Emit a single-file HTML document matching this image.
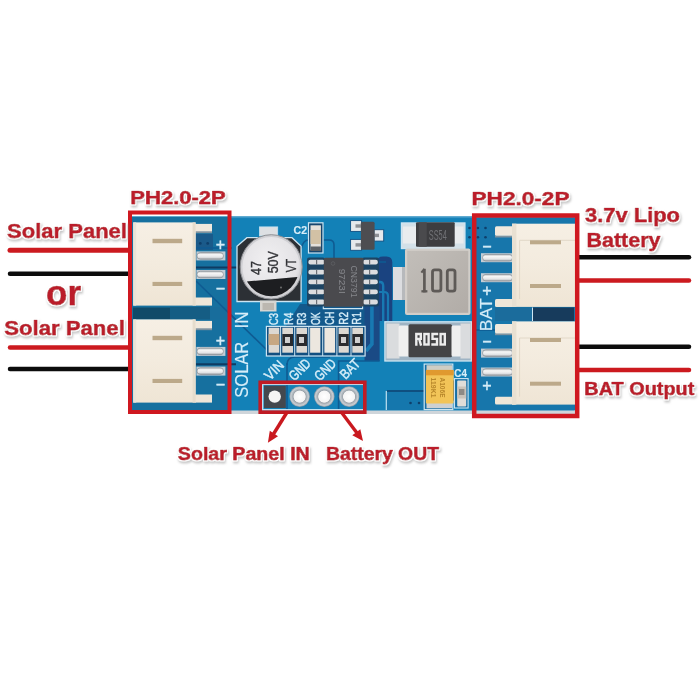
<!DOCTYPE html>
<html><head><meta charset="utf-8">
<style>
html,body{margin:0;padding:0;background:#fff;width:700px;height:700px;overflow:hidden}
svg{display:block;filter:blur(0.3px)}
.lbl{font-family:"Liberation Sans",sans-serif;font-weight:bold;fill:#bb1f2a;stroke:#bb1f2a;stroke-width:0.75px;stroke-linejoin:round}
.silk{font-family:"Liberation Sans",sans-serif;fill:#d6edf8;stroke:#d6edf8;stroke-width:0.15px}
</style></head>
<body>
<svg width="700" height="700" viewBox="0 0 700 700">
<defs>
<filter id="sh" x="-10%" y="-30%" width="120%" height="160%">
<feMorphology in="SourceAlpha" operator="dilate" radius="1.2" result="d"/>
<feGaussianBlur in="d" stdDeviation="0.9" result="db"/>
<feOffset in="db" dx="1" dy="1.6" result="o"/>
<feFlood flood-color="#9a9a9a" flood-opacity="0.55"/>
<feComposite in2="o" operator="in" result="s"/>
<feMorphology in="SourceAlpha" operator="dilate" radius="0.9" result="h"/>
<feFlood flood-color="#ffffff"/>
<feComposite in2="h" operator="in" result="hw"/>
<feMerge><feMergeNode in="s"/><feMergeNode in="hw"/><feMergeNode in="SourceGraphic"/></feMerge>
</filter>
<linearGradient id="cream" x1="0" y1="0" x2="0" y2="1">
<stop offset="0" stop-color="#f6efe4"/><stop offset="0.5" stop-color="#f3ebde"/><stop offset="1" stop-color="#efe5d5"/>
</linearGradient>
<linearGradient id="pin" x1="0" y1="0" x2="0" y2="1">
<stop offset="0" stop-color="#b5b9bd"/><stop offset="0.3" stop-color="#f6f6f6"/><stop offset="0.7" stop-color="#e4e5e7"/><stop offset="1" stop-color="#a2a6ab"/>
</linearGradient>
<radialGradient id="can" cx="0.45" cy="0.4" r="0.65">
<stop offset="0" stop-color="#f1f0f2"/><stop offset="0.8" stop-color="#e3e2e5"/><stop offset="1" stop-color="#c9c8cc"/>
</radialGradient>
<linearGradient id="ind" x1="0" y1="0" x2="1" y2="1">
<stop offset="0" stop-color="#c2beb9"/><stop offset="1" stop-color="#b1aca7"/>
</linearGradient>
<radialGradient id="ring">
<stop offset="0" stop-color="#ffffff"/><stop offset="0.55" stop-color="#f4f4f4"/><stop offset="0.62" stop-color="#9ea6ad"/><stop offset="0.85" stop-color="#c9cfd4"/><stop offset="1" stop-color="#8a96a0"/>
</radialGradient>
</defs>
<rect width="700" height="700" fill="#fff"/>

<!-- wires -->
<g stroke-linecap="round">
<line x1="10" y1="250.2" x2="130" y2="250.2" stroke="#cc1a1f" stroke-width="5"/>
<line x1="10" y1="273.8" x2="130" y2="273.8" stroke="#0c0c0c" stroke-width="4.5"/>
<line x1="10" y1="347.5" x2="130" y2="347.5" stroke="#cc1a1f" stroke-width="4.5"/>
<line x1="10" y1="369" x2="130" y2="369" stroke="#0c0c0c" stroke-width="4.5"/>
<line x1="578" y1="257.2" x2="689" y2="257.2" stroke="#0c0c0c" stroke-width="4.5"/>
<line x1="578" y1="280.4" x2="689" y2="280.4" stroke="#cc1a1f" stroke-width="4.5"/>
<line x1="578" y1="346.7" x2="689" y2="346.7" stroke="#0c0c0c" stroke-width="4.5"/>
<line x1="578" y1="369.9" x2="689" y2="369.9" stroke="#cc1a1f" stroke-width="4.5"/>
</g>

<!-- board -->
<rect x="130" y="409" width="446" height="5" fill="#cfd5da"/>
<rect x="130" y="216.5" width="446" height="194" rx="2" fill="#1381b7"/>
<rect x="130" y="216.5" width="446" height="1.6" fill="#3a96c6"/>
<!-- dark pours -->
<rect x="132" y="217" width="96" height="193" fill="#16709f"/>
<rect x="133" y="307.5" width="37" height="11.8" fill="#104a68"/>
<rect x="196" y="234" width="17" height="16" fill="#1a5a8a"/>
<rect x="170" y="307" width="40" height="12.5" fill="#155d84"/><rect x="210" y="307" width="20" height="12.5" fill="#186d9c"/>
<rect x="476" y="218" width="99" height="192" fill="#1776ab"/>
<rect x="495" y="307.5" width="38" height="13.5" fill="#1b6c9c"/>
<rect x="533" y="307.5" width="41" height="13.5" fill="#173b5c"/>
<rect x="532" y="307.5" width="1" height="13.5" fill="#cfe6f3"/>
<path d="M286 326 L300 304 H366 V326 Z" fill="#13598c"/>
<path d="M377 262 Q377 256.5 383 256.5 H386.5 Q392.3 256.5 392.3 262.5 V321 H377 Z" fill="#1a4380"/>
<path d="M377.5 282 H380 Q383.2 282 383.2 286 V321" stroke="#1879b2" stroke-width="2.4" fill="none"/>
<path d="M377.5 292 H384 Q388 292 388 296 V321" stroke="#1879b2" stroke-width="2.2" fill="none"/>
<path d="M364.5 306 H379.6 V361 H364.5 Z" fill="#1a4a85"/>
<path d="M371.9 306 V344 L366 351" stroke="#1879b2" stroke-width="3.6" fill="none"/>
<!-- traces -->
<g fill="none" stroke="#0f5b92" stroke-width="1.6">
<path d="M196 281 L270 353"/>
<path d="M228 312 L240 324"/>
<path d="M323.5 240 H329 Q334 240 334 245 V258"/>
<path d="M301 249 Q303 240 308.5 240"/>
<path d="M378 262 H386"/>
<path d="M287 363 V410"/>
<path d="M338.6 410 V361 H379.6"/>
<path d="M287 365 Q287 357 295 357 H330"/>

<path d="M196 248 H232"/>
<path d="M196 267.4 H238" stroke="#0e3b62" stroke-width="2"/>
<path d="M196 364.3 H236" stroke="#0e3b62" stroke-width="2"/>
<path d="M476 330 H495"/>
</g>
<!-- vias -->
<g fill="#0e3f6b">
<circle cx="469.5" cy="228" r="1.3"/><circle cx="477.9" cy="228" r="1.3"/><circle cx="485.5" cy="228" r="1.3"/>
<circle cx="469.5" cy="237.3" r="1.3"/><circle cx="477.9" cy="237.3" r="1.3"/><circle cx="485.5" cy="237.3" r="1.3"/>
<circle cx="200.3" cy="243.4" r="1.4"/><circle cx="207.7" cy="243.4" r="1.4"/>

</g>

<!-- pins -->
<rect x="196.4" y="251.4" width="29" height="9" fill="#c3ced6"/>
<rect x="197" y="252.6" width="26.5" height="6.6" rx="3.3" fill="url(#pin)" stroke="#878c92" stroke-width="0.7"/>
<rect x="196.4" y="270.0" width="29" height="9" fill="#c3ced6"/>
<rect x="197" y="271.2" width="26.5" height="6.6" rx="3.3" fill="url(#pin)" stroke="#878c92" stroke-width="0.7"/>
<rect x="196.4" y="346.9" width="29" height="9" fill="#c3ced6"/>
<rect x="197" y="348.1" width="26.5" height="6.6" rx="3.3" fill="url(#pin)" stroke="#878c92" stroke-width="0.7"/>
<rect x="196.4" y="366.6" width="29" height="9" fill="#c3ced6"/>
<rect x="197" y="367.8" width="26.5" height="6.6" rx="3.3" fill="url(#pin)" stroke="#878c92" stroke-width="0.7"/>
<rect x="481" y="253.2" width="32" height="9" fill="#c3ced6"/>
<rect x="482.5" y="254.4" width="30" height="6.6" rx="3.3" fill="url(#pin)" stroke="#878c92" stroke-width="0.7"/>
<rect x="481" y="273.2" width="32" height="9" fill="#c3ced6"/>
<rect x="482.5" y="274.4" width="30" height="6.6" rx="3.3" fill="url(#pin)" stroke="#878c92" stroke-width="0.7"/>
<rect x="481" y="348.6" width="32" height="9" fill="#c3ced6"/>
<rect x="482.5" y="349.8" width="30" height="6.6" rx="3.3" fill="url(#pin)" stroke="#878c92" stroke-width="0.7"/>
<rect x="481" y="367.5" width="32" height="9" fill="#c3ced6"/>
<rect x="482.5" y="368.7" width="30" height="6.6" rx="3.3" fill="url(#pin)" stroke="#878c92" stroke-width="0.7"/>
<!-- ===== left connectors ===== -->
<g id="lc">
<rect x="195" y="231" width="17" height="2.2" fill="#7f929f"/>
<rect x="195" y="223.9" width="17" height="7.4" fill="#f1e9dd"/>
<rect x="195" y="297.5" width="17" height="8.1" fill="#efe6d8"/>
<rect x="133.2" y="222.4" width="62.4" height="83.2" fill="url(#cream)"/>
<rect x="192.6" y="222.4" width="3" height="83.2" fill="#e6ddcd"/>
<rect x="133.2" y="222.4" width="3" height="83.2" fill="#e9e3d8"/>
<rect x="152.5" y="238.8" width="29.7" height="4.4" fill="#bca98a"/>
<rect x="152.5" y="281.9" width="29.7" height="4.1" fill="#bca98a"/>
</g>
<use href="#lc" y="97"/>

<!-- ===== right connectors ===== -->
<g id="rc">
<rect x="495" y="235.5" width="21" height="2" fill="#7f929f"/>
<rect x="495" y="226.3" width="21" height="9.4" rx="1.5" fill="#f1e9dd"/>
<rect x="495" y="299.1" width="21" height="7.8" rx="1.5" fill="#efe6d8"/>
<rect x="512" y="223.7" width="63" height="83.2" fill="url(#cream)"/>
<rect x="512" y="223.7" width="4.4" height="83.2" fill="#e8e0d2"/>
<path d="M575 240.3 H519.6 V299" fill="none" stroke="#e2d8c8" stroke-width="1"/>
<rect x="530" y="240.3" width="31" height="4" fill="#bca98a"/>
<rect x="530" y="284" width="31" height="4" fill="#bca98a"/>
</g>
<use href="#rc" y="97.7"/>

<!-- +/- and BAT -->
<g font-family="Liberation Sans, sans-serif" font-size="16" fill="#d6edf8" stroke="#d6edf8" stroke-width="0.4" text-anchor="middle">
<text x="220.5" y="250">+</text><text x="220.5" y="293.5">−</text>
<text x="220.5" y="345.5">+</text><text x="220.5" y="390">−</text>
<text x="486.8" y="251.5">−</text><text x="486.8" y="296.3">+</text>
<text x="486.8" y="346.5">−</text><text x="486.8" y="391.4">+</text>
</g>
<text transform="translate(492.3 331.3) rotate(-90)" class="silk" font-size="16.5" textLength="33" lengthAdjust="spacingAndGlyphs">BAT</text>
<text transform="translate(248.1 397.7) rotate(-90)" class="silk" font-size="18.5" textLength="56" lengthAdjust="spacingAndGlyphs">SOLAR</text>
<text transform="translate(248.1 328.6) rotate(-90)" class="silk" font-size="18.5" textLength="17.2" lengthAdjust="spacingAndGlyphs">IN</text>

<!-- ===== electrolytic cap ===== -->
<path d="M237 246.3 L246.9 237.7 H292 L301.1 246.3 V301.5 H237 Z" fill="#2c3035" stroke="#cde5f2" stroke-width="1.3"/>
<rect x="259.4" y="226.9" width="18.3" height="9" fill="#dde0e3" stroke="#c4e2f1" stroke-width="0.8"/>
<rect x="260" y="300.5" width="16.5" height="11" fill="#d6d5d1"/>
<rect x="262.5" y="303" width="11.5" height="7" fill="#bbb7b0"/>
<clipPath id="capc"><ellipse cx="271.2" cy="266.9" rx="28" ry="29.3"/></clipPath>
<ellipse cx="271.2" cy="266.9" rx="31" ry="32.2" fill="#cfcfd3" stroke="#8f9094" stroke-width="1"/>
<ellipse cx="271.2" cy="266.9" rx="28.8" ry="30" fill="url(#can)"/>
<path d="M230 283.5 L246 281.5 L299.8 276.8 L312 275.5 V310 H230 Z" fill="#1d1e21" clip-path="url(#capc)"/>
<circle cx="281" cy="287.5" r="0.9" fill="#777"/>
<g font-family="Liberation Sans, sans-serif" font-size="14.5" fill="#323337" stroke="#323337" stroke-width="0.35" text-anchor="middle">
<text transform="translate(261.2 268) rotate(-90)" textLength="14" lengthAdjust="spacingAndGlyphs">47</text>
<text transform="translate(277.6 262.2) rotate(-90)" textLength="22.3" lengthAdjust="spacingAndGlyphs">50V</text>
<text transform="translate(295.7 265.5) rotate(-90)" textLength="13.5" lengthAdjust="spacingAndGlyphs">VT</text>
</g>

<!-- ===== C2 ===== -->
<rect x="308.5" y="222.8" width="14.5" height="30.2" fill="#16466f" stroke="#cde5f2" stroke-width="1.2"/>
<rect x="310.5" y="225.3" width="10.4" height="25" fill="#e4e0da"/>
<rect x="310.5" y="230" width="10.4" height="14" fill="#d2c1a5"/>
<rect x="310.5" y="246.5" width="10.4" height="4.5" fill="#5d6166"/>
<text x="293.5" y="233.6" class="silk" font-size="10" font-weight="bold" textLength="13.6" lengthAdjust="spacingAndGlyphs">C2</text>

<!-- ===== SOT23 ===== -->
<g fill="#e6e9ec" stroke="#0f4f82" stroke-width="0.9">
<rect x="350.6" y="220.6" width="11" height="10.8"/>
<rect x="350.6" y="239.4" width="11" height="10.9"/>
<rect x="374" y="229.7" width="9.7" height="11.4"/>
</g>
<g fill="#8d9095">
<rect x="355.5" y="224.3" width="6" height="3.4"/><rect x="355.5" y="243.2" width="6" height="3.4"/><rect x="374" y="233.7" width="5" height="3.4"/>
</g>
<rect x="360.9" y="221.7" width="13.7" height="28" rx="1.5" fill="#4d4d51"/>

<!-- ===== IC ===== -->
<rect x="307" y="257.5" width="18" height="49" rx="2" fill="#1d4463"/>
<rect x="362" y="257.5" width="17" height="49" rx="2" fill="#1d4463"/>
<g fill="#dcdddf">
<rect x="308.4" y="259.8" width="16.5" height="4.8" rx="2"/><rect x="308.4" y="269.7" width="16.5" height="4.8" rx="2"/><rect x="308.4" y="279.5" width="16.5" height="4.8" rx="2"/><rect x="308.4" y="289.4" width="16.5" height="4.8" rx="2"/><rect x="308.4" y="299.6" width="16.5" height="4.8" rx="2"/>
<rect x="363" y="259.8" width="14.8" height="4.8" rx="2"/><rect x="363" y="269.7" width="14.8" height="4.8" rx="2"/><rect x="363" y="279.5" width="14.8" height="4.8" rx="2"/><rect x="363" y="289.4" width="14.8" height="4.8" rx="2"/><rect x="363" y="299.6" width="14.8" height="4.8" rx="2"/>
</g>
<g fill="#6d7076">
<rect x="316" y="259.8" width="1.2" height="4.8"/><rect x="316" y="269.7" width="1.2" height="4.8"/><rect x="316" y="279.5" width="1.2" height="4.8"/><rect x="316" y="289.4" width="1.2" height="4.8"/><rect x="316" y="299.6" width="1.2" height="4.8"/>
<rect x="369" y="259.8" width="1.2" height="4.8"/><rect x="369" y="269.7" width="1.2" height="4.8"/><rect x="369" y="279.5" width="1.2" height="4.8"/><rect x="369" y="289.4" width="1.2" height="4.8"/><rect x="369" y="299.6" width="1.2" height="4.8"/>
</g>
<rect x="323.8" y="257.7" width="39.8" height="49" rx="1.5" fill="#4a4a4e"/>
<circle cx="333" cy="263.5" r="1.8" fill="none" stroke="#5e5f63" stroke-width="0.8"/>
<g font-family="Liberation Sans, sans-serif" font-size="9.6" fill="#86878c" text-anchor="middle">
<text transform="translate(350.8 281.5) rotate(90)" textLength="32" lengthAdjust="spacingAndGlyphs">CN3791</text>
<text transform="translate(338.6 281.2) rotate(90)" textLength="25" lengthAdjust="spacingAndGlyphs">9723I</text>
</g>

<path d="M323.3 306.5 V308.6 H362.6 V306.5" fill="none" stroke="#cde5f2" stroke-width="1.1"/>
<!-- ===== diode SS54 ===== -->
<rect x="401.4" y="222.9" width="63.6" height="25.7" fill="#d3e0e8" stroke="#cde5f2" stroke-width="1.2"/>
<rect x="403" y="226.5" width="13" height="17" fill="#e9ecee"/>
<rect x="454" y="226.5" width="9.5" height="17" fill="#e9ecee"/>
<rect x="416" y="222.3" width="38.7" height="24.4" rx="1" fill="#3d3d40"/>
<rect x="418.7" y="222.3" width="8" height="24.4" fill="#4a4a4d"/>
<text x="437.8" y="239.8" font-family="Liberation Sans, sans-serif" font-size="15.5" fill="#707175" text-anchor="middle" textLength="18" lengthAdjust="spacingAndGlyphs">SS54</text>

<!-- ===== inductor ===== -->
<rect x="393" y="267" width="13" height="33" fill="#dcdde0"/>
<rect x="402" y="267" width="4" height="33" fill="#b7b9bc"/>
<rect x="405" y="248.6" width="65.5" height="66.4" rx="2" fill="#d2cec9"/>
<rect x="407.2" y="250.8" width="61.1" height="62" fill="url(#ind)"/>
<g stroke="#5e5a57" fill="none">
<path d="M424.4 268.8 V292.4" stroke-width="2.7"/>
<path d="M421.4 272.6 L424.4 268.9" stroke-width="2.2"/>
<path d="M421.4 291.3 H427.4" stroke-width="2.3"/>
<rect x="432.5" y="269.8" width="8.4" height="21.3" rx="2.2" stroke-width="2.8"/>
<rect x="447.3" y="269.8" width="7.7" height="21.3" rx="2.2" stroke-width="2.8"/>
</g>

<!-- ===== R050 ===== -->
<rect x="384.9" y="321.8" width="86.5" height="39.2" fill="#9fb4c4" stroke="#cde5f2" stroke-width="1.3"/>
<rect x="386.5" y="323.5" width="13" height="35" fill="#dadcde"/>
<rect x="398.6" y="325.6" width="10.5" height="31" rx="1.5" fill="#efefef"/>
<rect x="408.5" y="324.2" width="43.5" height="33" rx="1.5" fill="#434345"/>
<rect x="451.5" y="325.6" width="10" height="31" rx="1.5" fill="#efefef"/>
<rect x="460.5" y="323.5" width="10" height="35" fill="#dadcde"/>
<g stroke="#ececec" stroke-width="2.4" fill="none">
<path d="M416.3 345.7 V334 H420.8 V338.9 H416.3 M419.2 339 L421.1 345.7"/>
<rect x="424.4" y="334" width="4.2" height="10.5"/>
<path d="M438.2 334 H432.5 V338.9 H437 V344.5 H431.3"/>
<rect x="440.6" y="334" width="4.2" height="10.5"/>
</g>

<rect x="387" y="392" width="37" height="18" fill="#1577ad"/>
<circle cx="410.5" cy="403" r="1.3" fill="#0e3f6b"/><circle cx="419" cy="403" r="1.3" fill="#0e3f6b"/>
<path d="M424 391 H387" fill="none" stroke="#0f4f80" stroke-width="1.8"/>
<path d="M386.3 391 V410" fill="none" stroke="#bfe0f0" stroke-width="1.2"/>
<!-- ===== tantalum + C4 ===== -->
<rect x="424.2" y="364.1" width="28.6" height="45.5" fill="#176fa5" stroke="#cde5f2" stroke-width="1.2"/>
<rect x="426.5" y="365.2" width="25.5" height="5" fill="#cfcdc4"/>
<rect x="426.5" y="402.5" width="25.5" height="5.8" fill="#cdd0d2"/>
<rect x="453.2" y="379.5" width="4" height="22" rx="2" fill="#2e2f31"/>
<rect x="425.9" y="369.9" width="27.7" height="33.5" rx="1" fill="#f2c458"/>
<rect x="425.9" y="369.9" width="27.7" height="5.4" fill="#e0992f"/>
<g font-family="Liberation Sans, sans-serif" font-size="7" font-weight="bold" fill="#b7862a" text-anchor="middle">
<text transform="translate(440.2 387.5) rotate(90)" textLength="20" lengthAdjust="spacingAndGlyphs">A106E</text>
<text transform="translate(431 387.5) rotate(90)" textLength="20" lengthAdjust="spacingAndGlyphs">119K1</text>
</g>
<rect x="454.5" y="378.6" width="13.6" height="29.4" fill="#176fa5" stroke="#cde5f2" stroke-width="1.1"/>
<rect x="457.2" y="380.5" width="9" height="26" rx="1" fill="#e0ddd8"/>
<rect x="457.2" y="386.5" width="9" height="12" fill="#c9c3ba"/>
<rect x="459" y="389" width="5.4" height="6" fill="#8d8a85"/>
<text x="454.3" y="376.9" class="silk" font-size="10.5" font-weight="bold" textLength="12.6" lengthAdjust="spacingAndGlyphs">C4</text>

<!-- ===== small components row ===== -->
<rect x="266.4" y="326.4" width="98.7" height="29.6" fill="#124f80" stroke="#cde5f2" stroke-width="1.2"/>
<g stroke="#cde5f2" stroke-width="1">
<line x1="280.6" y1="326.4" x2="280.6" y2="356"/><line x1="294.7" y1="326.4" x2="294.7" y2="356"/><line x1="308.8" y1="326.4" x2="308.8" y2="356"/><line x1="322.7" y1="326.4" x2="322.7" y2="356"/><line x1="336.9" y1="326.4" x2="336.9" y2="356"/><line x1="351" y1="326.4" x2="351" y2="356"/>
</g>
<g fill="#dcd8d2">
<rect x="268.6" y="327.7" width="10.7" height="25"/><rect x="282.3" y="327.7" width="10.7" height="25"/><rect x="296.4" y="327.7" width="10.7" height="25"/><rect x="310.1" y="327.7" width="10.3" height="25" fill="#ece7df"/><rect x="324.4" y="327.7" width="10.7" height="25" fill="#ece7df"/><rect x="338.6" y="327.7" width="10.2" height="25"/><rect x="352.3" y="327.7" width="10.7" height="25"/>
</g>
<rect x="268.6" y="334" width="10.7" height="11" fill="#c7a782"/>
<g fill="#2a2b2e">
<rect x="282.3" y="334" width="10.7" height="12"/><rect x="296.4" y="334" width="10.7" height="12"/><rect x="338.6" y="334" width="10.2" height="12"/><rect x="352.3" y="334" width="10.7" height="12"/>
</g>
<g fill="#cfcfcf">
<rect x="285" y="337" width="5" height="6"/><rect x="299" y="337" width="5" height="6"/><rect x="341" y="337" width="5" height="6"/><rect x="355" y="337" width="5" height="6"/>
</g>
<g font-family="Liberation Sans, sans-serif" font-size="12" fill="#d6edf8" stroke="#d6edf8" stroke-width="0.4">
<text transform="translate(278.4 325.1) rotate(-90)" textLength="12" lengthAdjust="spacingAndGlyphs">C3</text>
<text transform="translate(292.6 325.1) rotate(-90)" textLength="12.4" lengthAdjust="spacingAndGlyphs">R4</text>
<text transform="translate(305.8 325.1) rotate(-90)" textLength="12.4" lengthAdjust="spacingAndGlyphs">R3</text>
<text transform="translate(319.6 325.1) rotate(-90)" textLength="12.8" lengthAdjust="spacingAndGlyphs">OK</text>
<text transform="translate(333.9 324.7) rotate(-90)" textLength="13" lengthAdjust="spacingAndGlyphs">CH</text>
<text transform="translate(347.6 324.7) rotate(-90)" textLength="12.6" lengthAdjust="spacingAndGlyphs">R2</text>
<text transform="translate(360.8 324.7) rotate(-90)" textLength="12.6" lengthAdjust="spacingAndGlyphs">R1</text>
</g>

<!-- ===== header ===== -->
<rect x="262.7" y="384.4" width="101.6" height="25.3" fill="none" stroke="#cde5f2" stroke-width="1.3"/>
<rect x="264" y="385.7" width="21.8" height="22.3" fill="#43484e"/>
<circle cx="274.7" cy="396.6" r="6.2" fill="#f5f5f4"/>
<circle cx="299.6" cy="396.6" r="10.3" fill="url(#ring)"/>
<circle cx="324.3" cy="396.6" r="10.3" fill="url(#ring)"/>
<circle cx="349.1" cy="396.6" r="10.3" fill="url(#ring)"/>
<g font-family="Liberation Sans, sans-serif" font-size="14" fill="#d6edf8" stroke="#d6edf8" stroke-width="0.45">
<text transform="translate(270 381) rotate(-45)" textLength="21" lengthAdjust="spacingAndGlyphs">VIN</text>
<text transform="translate(294.5 381.5) rotate(-45)" textLength="24" lengthAdjust="spacingAndGlyphs">GND</text>
<text transform="translate(320 381.5) rotate(-45)" textLength="24" lengthAdjust="spacingAndGlyphs">GND</text>
<text transform="translate(345.5 380) rotate(-45)" textLength="22" lengthAdjust="spacingAndGlyphs">BAT</text>
</g>


<!-- red boxes -->
<g fill="none" stroke="#cf1820">
<rect x="130" y="212.5" width="99.5" height="199.5" stroke-width="4"/>
<rect x="474.2" y="215.5" width="103" height="200.5" stroke-width="4.5"/>
<rect x="260.2" y="382.3" width="104.6" height="29.9" stroke="#c01b24" stroke-width="3.6"/>
</g>
<!-- arrows -->
<g stroke="#c9191f" stroke-width="3.4" fill="none">
<line x1="287.2" y1="412" x2="273.5" y2="434"/>
<line x1="341.2" y1="412" x2="357" y2="433"/>
</g>
<g fill="#c9191f">
<polygon points="267.9,442.7 278,436.2 269.8,430.7"/>
<polygon points="363,441 360.3,429.2 352.3,435.3"/>
</g>
<!-- labels -->
<g class="lbl" filter="url(#sh)">
<text x="130.3" y="204" font-size="18.5" textLength="95.5" lengthAdjust="spacingAndGlyphs">PH2.0-2P</text>
<text x="471.5" y="205.4" font-size="19" textLength="98" lengthAdjust="spacingAndGlyphs">PH2.0-2P</text>
<text x="7" y="237.5" font-size="20.5" textLength="120" lengthAdjust="spacingAndGlyphs">Solar Panel</text>
<text x="46" y="305.3" font-size="35" textLength="35" lengthAdjust="spacingAndGlyphs">or</text>
<text x="4.3" y="335" font-size="20.5" textLength="120.5" lengthAdjust="spacingAndGlyphs">Solar Panel</text>
<text x="585" y="222" font-size="19.5" textLength="95" lengthAdjust="spacingAndGlyphs">3.7v Lipo</text>
<text x="586.5" y="247.1" font-size="20.5" textLength="74" lengthAdjust="spacingAndGlyphs">Battery</text>
<text x="584.3" y="395" font-size="18" textLength="110" lengthAdjust="spacingAndGlyphs">BAT Output</text>
<text x="177.8" y="459.9" font-size="18" textLength="132" lengthAdjust="spacingAndGlyphs">Solar Panel IN</text>
<text x="326" y="459.9" font-size="18" textLength="113" lengthAdjust="spacingAndGlyphs">Battery OUT</text>
</g>

</svg>
</body></html>
